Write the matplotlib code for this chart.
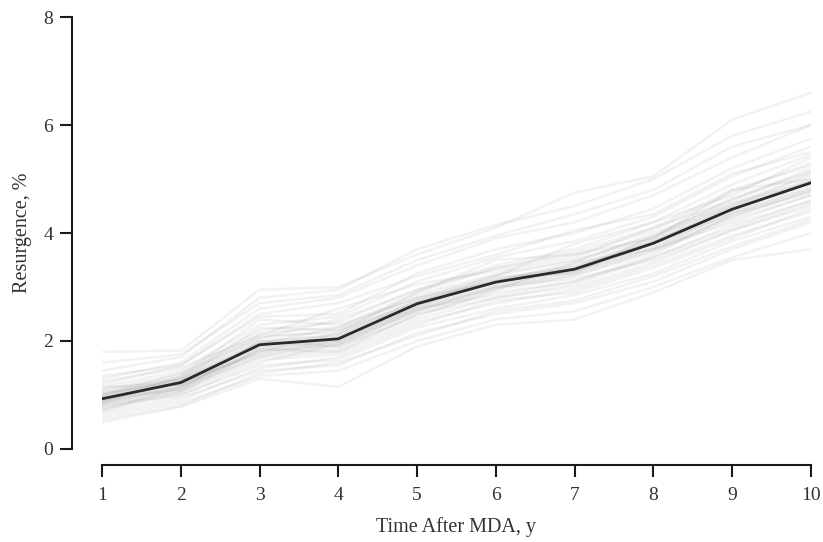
import matplotlib
matplotlib.use("Agg")
import matplotlib.pyplot as plt

plt.rcParams['font.family'] = ['Liberation Serif', 'DejaVu Serif']

years = [1, 2, 3, 4, 5, 6, 7, 8, 9, 10]

# mean resurgence (dark line)
mean_res = [0.93, 1.23, 1.93, 2.04, 2.69, 3.09, 3.33, 3.81, 4.44, 4.93]

# individual simulation runs (grey lines), read approximately
runs = [
    [1.80, 1.82, 2.95, 3.00, 3.60, 4.10, 4.75, 5.05, 6.10, 6.60],
    [1.45, 1.70, 2.80, 2.95, 3.70, 4.15, 4.50, 5.00, 5.80, 6.25],
    [1.30, 1.60, 2.60, 2.80, 3.40, 3.90, 4.20, 4.70, 5.40, 6.00],
    [1.20, 1.55, 2.45, 2.50, 3.25, 3.70, 4.00, 4.45, 5.20, 5.75],
    [1.15, 1.45, 2.30, 2.45, 3.10, 3.55, 3.85, 4.30, 5.05, 5.60],
    [1.10, 1.40, 2.20, 2.35, 2.95, 3.40, 3.70, 4.20, 4.90, 5.45],
    [1.05, 1.35, 2.15, 2.25, 2.90, 3.35, 3.60, 4.05, 4.75, 5.30],
    [1.00, 1.30, 2.05, 2.20, 2.85, 3.25, 3.50, 3.95, 4.65, 5.15],
    [0.98, 1.28, 2.00, 2.10, 2.75, 3.15, 3.40, 3.90, 4.55, 5.05],
    [0.95, 1.25, 1.95, 2.05, 2.70, 3.10, 3.35, 3.85, 4.45, 4.95],
    [0.92, 1.20, 1.90, 2.00, 2.65, 3.05, 3.30, 3.75, 4.40, 4.90],
    [0.90, 1.18, 1.85, 1.95, 2.60, 3.00, 3.25, 3.70, 4.30, 4.80],
    [0.88, 1.15, 1.80, 1.90, 2.55, 2.95, 3.20, 3.65, 4.25, 4.70],
    [0.85, 1.10, 1.75, 1.85, 2.50, 2.90, 3.10, 3.55, 4.15, 4.60],
    [0.82, 1.08, 1.70, 1.80, 2.40, 2.80, 3.00, 3.45, 4.05, 4.50],
    [0.80, 1.05, 1.65, 1.75, 2.35, 2.70, 2.95, 3.40, 3.95, 4.40],
    [0.75, 1.00, 1.55, 1.65, 2.25, 2.60, 2.85, 3.25, 3.85, 4.30],
    [0.70, 0.95, 1.45, 1.55, 2.15, 2.50, 2.70, 3.10, 3.70, 4.20],
    [0.60, 0.85, 1.35, 1.45, 2.00, 2.40, 2.55, 3.00, 3.55, 4.00],
    [0.50, 0.78, 1.30, 1.15, 1.90, 2.30, 2.40, 2.90, 3.50, 3.70],
    [1.25, 1.50, 2.10, 2.60, 3.05, 3.30, 3.55, 4.10, 4.60, 5.20],
    [0.85, 1.35, 2.40, 2.30, 2.80, 3.20, 3.80, 4.20, 4.70, 5.40],
    [1.05, 1.20, 1.80, 2.15, 2.90, 3.50, 3.60, 3.90, 4.80, 5.00],
    [0.95, 1.10, 2.00, 1.90, 2.45, 2.95, 3.45, 3.70, 4.20, 4.70],
    [0.70, 1.15, 1.70, 2.00, 2.60, 2.85, 3.10, 3.60, 4.35, 4.85],
    [1.10, 1.30, 2.25, 2.20, 2.70, 3.20, 3.25, 3.95, 4.50, 5.10],
    [0.80, 1.00, 1.60, 1.95, 2.55, 3.00, 3.15, 3.50, 4.05, 4.55],
    [1.35, 1.55, 2.50, 2.70, 3.20, 3.60, 4.05, 4.35, 5.10, 5.50],
    [0.65, 0.90, 1.50, 1.70, 2.30, 2.75, 2.90, 3.35, 3.90, 4.45],
    [1.00, 1.40, 2.05, 2.40, 2.95, 3.35, 3.65, 4.10, 4.80, 5.25],
    [0.90, 1.25, 1.75, 2.05, 2.65, 3.10, 3.30, 3.80, 4.35, 4.75],
    [1.15, 1.20, 1.95, 2.25, 2.80, 3.10, 3.45, 4.00, 4.55, 4.95],
    [0.75, 1.05, 1.85, 1.80, 2.50, 2.80, 3.05, 3.55, 4.10, 4.60],
    [1.60, 1.75, 2.70, 2.85, 3.50, 3.95, 4.35, 4.80, 5.60, 6.00],
    [0.55, 0.80, 1.40, 1.60, 2.10, 2.55, 2.75, 3.20, 3.75, 4.25],
    [0.98, 1.32, 2.10, 2.15, 2.78, 3.22, 3.48, 3.92, 4.62, 5.12],
    [0.88, 1.12, 1.88, 1.98, 2.62, 3.02, 3.28, 3.72, 4.38, 4.82],
    [1.02, 1.28, 1.98, 2.12, 2.74, 3.14, 3.38, 3.86, 4.50, 5.00],
    [0.84, 1.16, 1.82, 1.92, 2.58, 2.98, 3.22, 3.68, 4.30, 4.78],
    [0.94, 1.24, 1.94, 2.08, 2.72, 3.12, 3.36, 3.84, 4.48, 4.96],
]


def main():
    fig = plt.figure(figsize=(8.23, 5.42), dpi=100)
    ax = fig.add_axes([0.1239, 0.1716, 0.8615, 0.797])

    for r in runs:
        ax.plot(years, r, color='#808080', alpha=0.10, lw=1.8, solid_capstyle='round')
    ax.plot(years, mean_res, color='#2a2a2a', lw=2.0)

    ax.set_xlim(1, 10)
    ax.set_ylim(0, 8)
    ax.set_xticks(years)
    ax.set_yticks([0, 2, 4, 6, 8])

    for s in ['top', 'right']:
        ax.spines[s].set_visible(False)
    ax.spines['left'].set_position(('outward', 21.6))
    ax.spines['bottom'].set_position(('outward', 11.5))
    for s in ['left', 'bottom']:
        ax.spines[s].set_linewidth(1.5)
        ax.spines[s].set_color('#1a1a1a')

    ax.tick_params(axis='both', length=8.6, width=1.5, color='#1a1a1a',
                   labelsize=14, labelcolor='#333333')
    ax.tick_params(axis='x', pad=7)
    ax.tick_params(axis='y', pad=5)

    ax.set_xlabel('Time After MDA, y', fontsize=14.5, color='#333333', labelpad=10)
    ax.set_ylabel('Resurgence, %', fontsize=14.5, color='#333333', labelpad=8)

    fig.savefig('out.png', dpi=100)


if __name__ == '__main__':
    main()
